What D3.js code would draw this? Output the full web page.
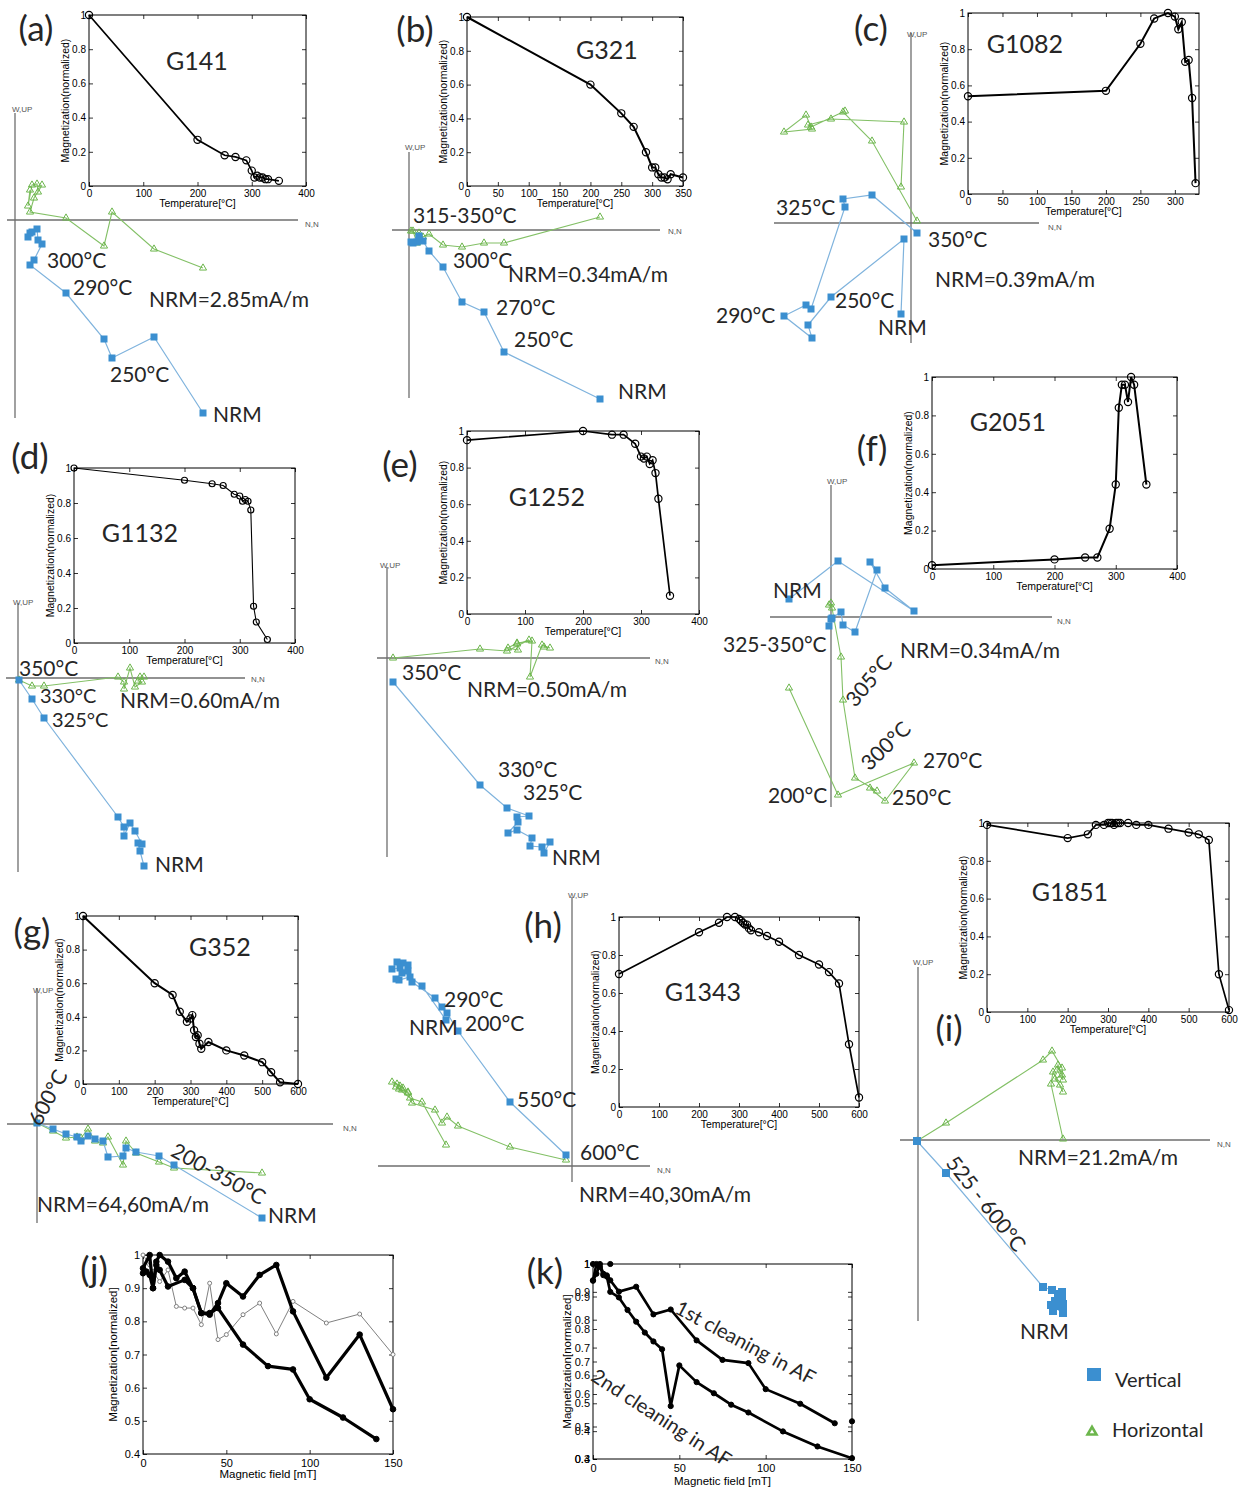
<!DOCTYPE html>
<html><head><meta charset="utf-8">
<script src="https://cdn.jsdelivr.net/npm/d3@7/dist/d3.min.js"></script>
<style>html,body{margin:0;padding:0;background:#fff;}</style>
</head><body>
<svg id="fig" width="1245" height="1492" xmlns="http://www.w3.org/2000/svg"></svg>
<script>
// ================= tick labels =================
const magTicks = [0, 0.2, 0.4, 0.6, 0.8, 1];
const tempTicks400 = [0, 100, 200, 300, 400];
const tempTicks350 = [0, 50, 100, 150, 200, 250, 300, 350];
const tempTicks300 = [0, 50, 100, 150, 200, 250, 300];
const tempTicks600 = [0, 100, 200, 300, 400, 500, 600];
const fieldTicks = [0, 50, 100, 150];
const afTicksJ = [0.4, 0.5, 0.6, 0.7, 0.8, 0.9, 1];
const afTicksKA = [0.4, 0.5, 0.6, 0.7, 0.8, 0.9, 1];
const afTicksKB = [0.3, 0.4, 0.5, 0.6, 0.7, 0.8, 0.9, 1];

// ================= thermal demagnetization curves =================
const tempG141 = [0,200,250,270,290,300,305,310,315,320,325,330,350];
const magG141  = [1,0.27,0.18,0.17,0.15,0.09,0.05,0.06,0.05,0.05,0.04,0.04,0.03];
const tempG321 = [0,200,250,270,290,300,305,310,315,320,325,330,350];
const magG321  = [1,0.6,0.43,0.35,0.2,0.11,0.11,0.07,0.05,0.05,0.04,0.07,0.05];
const tempG1082 = [0,200,250,270,290,300,305,310,315,320,325,330];
const magG1082  = [0.54,0.57,0.83,0.97,1.0,0.98,0.91,0.95,0.73,0.74,0.53,0.06];
const tempG1132 = [0,200,250,270,290,300,305,310,315,320,325,330,350];
const magG1132  = [1,0.93,0.91,0.9,0.85,0.84,0.81,0.82,0.81,0.76,0.21,0.12,0.02];
const tempG1252 = [0,200,250,270,290,300,305,310,315,320,325,330,350];
const magG1252  = [0.95,1.0,0.98,0.98,0.93,0.86,0.85,0.86,0.82,0.84,0.77,0.63,0.1];
const tempG2051 = [0,200,250,270,290,300,305,310,315,320,325,330,350];
const magG2051  = [0.02,0.05,0.06,0.06,0.21,0.44,0.84,0.96,0.96,0.87,1.0,0.96,0.44];
const tempG352 = [0,200,250,270,290,300,305,310,315,320,325,330,350,400,450,500,525,550,600];
const magG352  = [1,0.6,0.53,0.43,0.37,0.39,0.41,0.32,0.28,0.29,0.24,0.21,0.25,0.2,0.17,0.13,0.07,0.01,0.0];
const tempG1343 = [0,200,250,270,290,300,305,310,315,320,325,330,350,370,400,450,500,525,550,575,600];
const magG1343  = [0.7,0.92,0.97,1.0,1.0,0.99,0.98,0.97,0.96,0.96,0.94,0.93,0.92,0.9,0.87,0.8,0.75,0.71,0.65,0.33,0.05];
const tempG1851 = [0,200,250,270,290,300,305,310,315,320,325,330,350,370,400,450,500,525,550,575,600];
const magG1851  = [0.99,0.92,0.94,0.99,0.99,1.0,1.0,1.0,0.99,1.0,1.0,1.0,1.0,0.99,0.99,0.97,0.95,0.94,0.91,0.2,0.01];

// ================= Zijderveld components (N, vertical Up, horizontal W) =================
const zA_N = [18.8,13.9,9.7,8.9,5.1,1.5,1.9,2.7,2.3,2.2,1.7,1.3,1.5];
const zA_V = [-19.3,-11.7,-13.8,-11.9,-7.3,-4.5,-4.0,-2.4,-2.0,-0.9,-1.2,-1.7,-1.3];
const zA_H = [-4.8,-2.9,0.8,-2.6,0.2,0.8,2.2,3.5,2.8,3.6,3.5,1.4,3.0];

const zB_N = [19.1,9.5,7.5,5.3,3.4,2.0,1.4,1.0,0.8,0.4,0.2,1.0];
const zB_V = [-16.9,-12.2,-8.2,-7.2,-3.7,-2.1,-1.1,-0.8,-1.2,-1.3,-1.2,-0.6];
const zB_H = [1.3,-1.3,-1.3,-1.7,-1.5,-0.4,-0.7,-0.3,-1.3,-0.1,-0.1,-0.6];

const zC_N = [-1.0,-0.7,-8.0,-10.3,-9.9,-12.7,-10.5,-10.0,-6.6,-6.8,-3.9,0.6];
const zC_V = [-9.1,-1.6,-7.4,-10.2,-11.5,-9.3,-8.2,-8.6,1.6,2.4,2.8,-1.0];
const zC_H = [3.6,10.1,10.4,9.8,9.4,9.1,10.8,9.6,11.2,11.1,8.2,0.2];

const zD_N = [12.6,12.2,12.0,12.4,11.7,11.2,10.6,10.6,10.0,2.6,1.4,0.1];
const zD_V = [-18.8,-17.3,-16.5,-16.6,-15.3,-14.5,-15.8,-14.9,-13.9,-4.0,-2.1,-0.2];
const zD_H = [0.1,0.1,-0.3,-0.4,-0.9,1.0,-1.1,-0.4,0.1,-0.8,-0.8,-0.2];

const zE_N = [15.7,16.3,15.5,14.3,14.5,13.0,12.1,13.1,13.0,14.2,12.0,9.3,0.6];
const zE_V = [-19.5,-18.4,-18.9,-18.8,-18.0,-17.2,-17.5,-16.4,-15.9,-15.8,-15.0,-12.7,-2.4];
const zE_H = [1.1,1.0,1.3,-1.9,1.7,1.5,1.0,0.8,1.4,1.8,0.7,0.9,0.0];

const zF_N = [-4.2,0.7,8.3,5.4,3.9,4.6,2.4,1.2,1.0,0.1,-0.2,0.0];
const zF_V = [1.8,5.6,0.6,2.9,5.5,4.7,-1.5,-0.8,0.5,-0.1,-0.9,-0.2];
const zF_H = [-7.1,-17.8,-14.6,-18.4,-17.1,-17.4,-16.1,-8.3,-4.0,0.9,1.2,1.4];

const zG_N = [22.5,13.7,12.2,9.9,8.9,8.6,7.1,6.6,5.8,5.1,4.4,4.0,2.9,1.6,0.0];
const zG_V = [-9.4,-4.1,-3.2,-2.8,-2.4,-3.2,-3.3,-1.7,-1.5,-1.2,-1.7,-1.3,-1.0,-0.5,0.1];
const zG_H = [-4.9,-4.4,-3.8,-2.9,-1.7,-4.1,-1.3,-1.9,-1.7,-0.5,-1.4,-1.3,-1.4,-0.7,0.1];

const zH_N = [-12.6,-15.0,-16.2,-17.3,-17.6,-17.0,-16.4,-16.9,-17.5,-18.0,-17.2,-16.4,-16.0,-13.7,-13.0,-12.5,-11.4,-6.2,-0.6];
const zH_V = [14.6,18.0,18.9,18.6,18.7,19.3,20.1,20.3,20.4,19.7,19.8,19.5,18.4,16.8,15.9,15.3,13.5,6.4,1.1];
const zH_H = [2.1,6.4,6.8,7.7,7.9,7.6,7.3,7.8,8.2,8.4,8.0,7.4,6.3,5.6,4.3,4.9,4.0,1.9,0.6];

const zI_N = [14.5,13.3,13.5,14.5,14.2,13.7,14.4,14.0,13.9,14.5,14.4,13.4,12.5,2.8,-0.1];
const zI_V = [-17.3,-16.5,-17.1,-16.4,-15.6,-16.1,-15.9,-15.4,-16.6,-16.9,-15.2,-15.0,-14.7,-3.3,-0.1];
const zI_H = [0.1,5.6,6.8,4.8,5.5,6.1,6.5,7.5,7.0,6.0,7.2,8.9,8.0,1.7,-0.1];

// ================= AF demagnetization =================
const fieldJ1 = [0,4,6,8,10,15,20,25,30,35,40,45,50,60,70,80,90,110,130,150];
const magJ1   = [0.96,1.0,0.9,0.98,1.0,0.98,0.93,0.95,0.9,0.825,0.82,0.855,0.915,0.875,0.94,0.97,0.83,0.63,0.76,0.535];
const fieldJ2 = [0,2,4,6,8,10,15,25,30,35,40,45,60,75,90,100,120,140];
const magJ2   = [0.945,0.95,0.94,0.9,0.97,0.955,0.905,0.925,0.9,0.825,0.825,0.84,0.73,0.665,0.655,0.565,0.51,0.445];
const fieldJ3 = [0,4,6,10,15,20,25,30,35,40,45,50,60,70,80,90,110,130,150];
const magJ3   = [1.0,0.97,0.95,0.92,0.955,0.845,0.84,0.84,0.79,0.915,0.745,0.76,0.82,0.855,0.762,0.86,0.795,0.822,0.70];

const fieldK1 = [0,2,4,6,8,10,15,25,35,45,60,75,90,100,120,140];
const magK1   = [0.95,0.97,1.0,0.97,0.965,0.95,0.915,0.93,0.845,0.86,0.765,0.705,0.695,0.615,0.57,0.51];
const fieldK2 = [0,2,4,6,8,10,15,20,25,30,35,40,45,50,60,70,80,90,110,130,150];
const magK2   = [0.94,1.0,0.99,0.96,0.955,0.9,0.88,0.835,0.793,0.754,0.722,0.694,0.49,0.636,0.576,0.536,0.495,0.467,0.399,0.345,0.303];
const fieldK3 = [0,10,150];
const magK3   = [1.0,1.0,0.516];

// ================= drawing =================
const svg = d3.select('#fig');
const FT = "Lato, 'Open Sans', 'DejaVu Sans', sans-serif";
const FA = "'Liberation Sans', Arial, sans-serif";
const TXT = '#262626';
const AXC = '#6e6e6e';
const BLUE = '#3b8fd0', BLUE_L = '#7fb3dd', GREEN = '#6cb64c', GREEN_L = '#83c066';

function label(g, s, x, y, o = {}) {
  const t = g.append('text').text(s)
    .attr('font-family', o.ff || FT).attr('font-size', o.fs || 21)
    .attr('fill', o.fill || TXT);
  if (o.rot != null) {
    t.attr('x', x).attr('y', y).attr('text-anchor', 'middle')
      .attr('dominant-baseline', 'central')
      .attr('transform', `rotate(${o.rot},${x},${y})`);
  } else {
    t.attr('x', x).attr('y', y).attr('text-anchor', o.anchor || 'start');
    if (o.central) t.attr('dominant-baseline', 'central');
  }
  return t;
}

function axis(g, ax, tr, fs) {
  const a = g.append('g').attr('transform', tr).call(ax);
  a.select('.domain').remove();
  a.selectAll('line').attr('stroke', '#000').attr('stroke-width', 0.8);
  a.selectAll('text').attr('font-family', FA).attr('font-size', fs || 10).attr('fill', '#000');
  return a;
}

function thermo(c) {
  const g = svg.append('g');
  const x = d3.scaleLinear().domain([0, c.xmax]).range([c.x0, c.x1]);
  const y = d3.scaleLinear().domain([0, 1]).range([c.y1, c.y0]);
  g.append('rect').attr('x', c.x0).attr('y', c.y0)
    .attr('width', c.x1 - c.x0).attr('height', c.y1 - c.y0)
    .attr('fill', '#fff').attr('stroke', '#000').attr('stroke-width', 1);
  const fmtY = d => d === 0 ? '0' : d === 1 ? '1' : d3.format('.1f')(d);
  axis(g, d3.axisBottom(x).tickValues(c.xticks).tickSize(-4).tickPadding(4).tickFormat(d3.format('d')), `translate(0,${c.y1})`, 10);
  axis(g, d3.axisTop(x).tickValues(c.xticks).tickSize(-4).tickFormat(''), `translate(0,${c.y0})`);
  axis(g, d3.axisLeft(y).tickValues(magTicks).tickSize(-4).tickPadding(3).tickFormat(fmtY), `translate(${c.x0},0)`, 10);
  axis(g, d3.axisRight(y).tickValues(magTicks).tickSize(-4).tickFormat(''), `translate(${c.x1},0)`);
  label(g, 'Temperature[°C]', (c.x0 + c.x1) / 2, c.y1 + 21, { ff: FA, fs: 10.5, fill: '#000', anchor: 'middle' });
  label(g, 'Magnetization(normalized)', c.x0 - 24, (c.y0 + c.y1) / 2, { ff: FA, fs: 10.5, fill: '#000', rot: -90 });
  const pts = c.T.map((t, i) => [t, c.M[i]]);
  g.append('path').datum(pts)
    .attr('d', d3.line().x(d => x(d[0])).y(d => y(d[1])))
    .attr('fill', 'none').attr('stroke', '#000').attr('stroke-width', c.lw || 1.7);
  g.selectAll(null).data(pts).join('circle')
    .attr('cx', d => x(d[0])).attr('cy', d => y(d[1])).attr('r', c.r || 3.6)
    .attr('fill', 'none').attr('stroke', '#000').attr('stroke-width', 1.2);
  label(g, c.title, c.tx, c.ty, { fs: 25, anchor: 'middle' });
}

function zij(c) {
  const g = svg.append('g');
  const x = d3.scaleLinear().domain([0, 1]).range([c.ox, c.ox + 10]);
  const y = d3.scaleLinear().domain([0, 1]).range([c.oy, c.oy - 10]);
  g.append('line').attr('x1', c.hx[0]).attr('x2', c.hx[1]).attr('y1', c.oy).attr('y2', c.oy)
    .attr('stroke', AXC).attr('stroke-width', 1.3);
  g.append('line').attr('x1', c.ox).attr('x2', c.ox).attr('y1', c.vy[0]).attr('y2', c.vy[1])
    .attr('stroke', AXC).attr('stroke-width', 1.3);
  label(g, 'W,UP', c.wup[0], c.wup[1], { ff: FA, fs: 8, fill: '#555' });
  label(g, 'N,N', c.nn[0], c.nn[1], { ff: FA, fs: 8, fill: '#555' });
  const H = c.N.map((n, i) => [n, c.H[i]]);
  const V = c.N.map((n, i) => [n, c.V[i]]);
  const ln = d3.line().x(d => x(d[0])).y(d => y(d[1]));
  g.append('path').datum(H).attr('d', ln).attr('fill', 'none').attr('stroke', GREEN_L).attr('stroke-width', 1.1);
  g.selectAll(null).data(H).join('path')
    .attr('d', d3.symbol(d3.symbolTriangle, 22))
    .attr('transform', d => `translate(${x(d[0])},${y(d[1])})`)
    .attr('fill', 'none').attr('stroke', GREEN).attr('stroke-width', 1);
  g.append('path').datum(V).attr('d', ln).attr('fill', 'none').attr('stroke', BLUE_L).attr('stroke-width', 1.2);
  const s = c.sq || 7;
  g.selectAll(null).data(V).join('rect')
    .attr('x', d => x(d[0]) - s / 2).attr('y', d => y(d[1]) - s / 2)
    .attr('width', s).attr('height', s).attr('fill', BLUE);
  return g;
}

function texts(list) {
  const g = svg.append('g');
  list.forEach(d => label(g, d[0], d[1], d[2], d[3] != null ? { rot: d[3] } : (d[4] ? { fs: d[4] } : {})));
}

// ---------- Zijderveld panels ----------
zij({ ox: 15, oy: 220, hx: [7, 298], vy: [113, 418], wup: [12, 112], nn: [305, 227], N: zA_N, V: zA_V, H: zA_H });
zij({ ox: 409, oy: 230, hx: [392, 660], vy: [152, 398], wup: [405, 150], nn: [668, 234], N: zB_N, V: zB_V, H: zB_H });
zij({ ox: 911, oy: 223, hx: [774, 1039], vy: [33, 343], wup: [907, 37], nn: [1048, 230], N: zC_N, V: zC_V, H: zC_H });
zij({ ox: 18, oy: 678, hx: [6, 245], vy: [603, 872], wup: [13, 605], nn: [251, 682], N: zD_N, V: zD_V, H: zD_H });
zij({ ox: 387, oy: 658, hx: [377, 650], vy: [567, 857], wup: [380, 568], nn: [655, 664], N: zE_N, V: zE_V, H: zE_H });
zij({ ox: 831, oy: 617, hx: [770, 1052], vy: [485, 807], wup: [827, 484], nn: [1057, 624], N: zF_N, V: zF_V, H: zF_H });
zij({ ox: 37, oy: 1124, hx: [7, 333], vy: [988, 1223], wup: [33, 993], nn: [343, 1131], N: zG_N, V: zG_V, H: zG_H });
zij({ ox: 572, oy: 1166, hx: [378, 650], vy: [897, 1182], wup: [568, 898], nn: [657, 1173], N: zH_N, V: zH_V, H: zH_H });
zij({ ox: 918, oy: 1140, hx: [900, 1210], vy: [967, 1321], wup: [913, 965], nn: [1217, 1147], N: zI_N, V: zI_V, H: zI_H, sq: 8 });

// ---------- thermal insets ----------
thermo({ x0: 89, x1: 306, y0: 15, y1: 186, xmax: 400, xticks: tempTicks400, T: tempG141, M: magG141, title: 'G141', tx: 197, ty: 70 });
thermo({ x0: 467, x1: 683, y0: 17, y1: 186, xmax: 350, xticks: tempTicks350, T: tempG321, M: magG321, title: 'G321', tx: 607, ty: 59, lw: 2 });
thermo({ x0: 968, x1: 1199, y0: 13, y1: 194, xmax: 335, xticks: tempTicks300, T: tempG1082, M: magG1082, title: 'G1082', tx: 1025, ty: 53, lw: 2 });
thermo({ x0: 74, x1: 295, y0: 468, y1: 643, xmax: 400, xticks: tempTicks400, T: tempG1132, M: magG1132, title: 'G1132', tx: 140, ty: 542, lw: 1.1, r: 3 });
thermo({ x0: 467, x1: 699, y0: 431, y1: 614, xmax: 400, xticks: tempTicks400, T: tempG1252, M: magG1252, title: 'G1252', tx: 547, ty: 506 });
thermo({ x0: 932, x1: 1177, y0: 377, y1: 569, xmax: 400, xticks: tempTicks400, T: tempG2051, M: magG2051, title: 'G2051', tx: 1008, ty: 431, lw: 2 });
thermo({ x0: 83, x1: 298, y0: 916, y1: 1084, xmax: 600, xticks: tempTicks600, T: tempG352, M: magG352, title: 'G352', tx: 220, ty: 956, lw: 2 });
thermo({ x0: 619, x1: 859, y0: 917, y1: 1107, xmax: 600, xticks: tempTicks600, T: tempG1343, M: magG1343, title: 'G1343', tx: 703, ty: 1001 });
thermo({ x0: 987, x1: 1229, y0: 823, y1: 1012, xmax: 600, xticks: tempTicks600, T: tempG1851, M: magG1851, title: 'G1851', tx: 1070, ty: 901 });

// ---------- annotations ----------
texts([
  ['300°C', 47, 268], ['290°C', 73, 295], ['NRM=2.85mA/m', 149, 307], ['250°C', 110, 382], ['NRM', 213, 422],
  ['315-350°C', 413, 223], ['300°C', 453, 268], ['NRM=0.34mA/m', 508, 282], ['270°C', 496, 315], ['250°C', 514, 347], ['NRM', 618, 399],
  ['325°C', 776, 215], ['350°C', 928, 247], ['NRM=0.39mA/m', 935, 287], ['250°C', 835, 308], ['290°C', 716, 323], ['NRM', 878, 335],
  ['350°C', 19, 676], ['330°C', 40, 703, null, 20], ['325°C', 52, 727, null, 20], ['NRM=0.60mA/m', 120, 708], ['NRM', 155, 872],
  ['350°C', 402, 680], ['NRM=0.50mA/m', 467, 697], ['330°C', 498, 777], ['325°C', 523, 800], ['NRM', 552, 865],
  ['NRM', 773, 598], ['325-350°C', 723, 652], ['NRM=0.34mA/m', 900, 658], ['305°C', 868, 680, -50], ['300°C', 885, 745, -44],
  ['270°C', 923, 768], ['200°C', 768, 803], ['250°C', 892, 805],
  ['600°C', 47, 1097, -62], ['200-350°C', 219, 1173, 29], ['NRM=64,60mA/m', 37, 1212], ['NRM', 268, 1223],
  ['290°C', 444, 1007], ['NRM', 409, 1035], ['200°C', 465, 1031], ['550°C', 517, 1107], ['600°C', 580, 1160], ['NRM=40,30mA/m', 579, 1202],
  ['NRM=21.2mA/m', 1018, 1165], ['525 - 600°C', 987, 1203, 52], ['NRM', 1020, 1339]
]);

// ---------- panel letters ----------
const letters = svg.append('g');
[['(a)', 36, 27], ['(b)', 415, 28], ['(c)', 871, 27], ['(d)', 30, 455], ['(e)', 400, 463], ['(f)', 872, 447],
 ['(g)', 32, 930], ['(h)', 543, 924], ['(i)', 949, 1027], ['(j)', 94, 1268], ['(k)', 545, 1270]]
  .forEach(d => label(letters, d[0], d[1], d[2], { fs: 35, anchor: 'middle', central: true }));

// ---------- AF plots ----------
function afPlot(c) {
  const g = svg.append('g');
  const x = d3.scaleLinear().domain([0, 150]).range([c.x0, c.x1]);
  const ys = c.axes.map(a => d3.scaleLinear().domain([a[0], 1]).range([c.y1, c.y0]));
  g.append('rect').attr('x', c.x0).attr('y', c.y0).attr('width', c.x1 - c.x0).attr('height', c.y1 - c.y0)
    .attr('fill', '#fff').attr('stroke', '#000').attr('stroke-width', 1);
  const fmtY = d => d === 1 ? '1' : d3.format('.1f')(d);
  axis(g, d3.axisBottom(x).tickValues(fieldTicks).tickSize(-4).tickPadding(5).tickFormat(d3.format('d')), `translate(0,${c.y1})`, 11);
  axis(g, d3.axisTop(x).tickValues(fieldTicks).tickSize(-4).tickFormat(''), `translate(0,${c.y0})`);
  ys.forEach((yy, i) => {
    axis(g, d3.axisLeft(yy).tickValues(c.axes[i][1]).tickSize(-4).tickPadding(3).tickFormat(fmtY), `translate(${c.x0},0)`, 11);
    axis(g, d3.axisRight(yy).tickValues(c.axes[i][1]).tickSize(-4).tickFormat(''), `translate(${c.x1},0)`);
  });
  label(g, 'Magnetic field [mT]', (c.x0 + c.x1) / 2, c.y1 + c.xlab, { ff: FA, fs: 11.5, fill: '#000', anchor: 'middle' });
  label(g, 'Magnetization[normalized]', c.x0 - c.ylab, (c.y0 + c.y1) / 2, { ff: FA, fs: 11.5, fill: '#000', rot: -90 });
  c.series.forEach(s => {
    const yy = ys[s.ax];
    const pts = s.f.map((f, i) => [f, s.m[i]]);
    if (s.lw) g.append('path').datum(pts).attr('d', d3.line().x(d => x(d[0])).y(d => yy(d[1])))
      .attr('fill', 'none').attr('stroke', s.color).attr('stroke-width', s.lw).attr('stroke-linejoin', 'round');
    g.selectAll(null).data(pts).join('circle')
      .attr('cx', d => x(d[0])).attr('cy', d => yy(d[1])).attr('r', s.r)
      .attr('fill', s.open ? '#fff' : s.color).attr('stroke', s.color).attr('stroke-width', 1);
  });
  return g;
}

afPlot({ x0: 143, x1: 393, y0: 1255, y1: 1454, xlab: 24, ylab: 30,
  axes: [[0.4, afTicksJ]],
  series: [
    { f: fieldJ3, m: magJ3, ax: 0, lw: 1, color: '#808080', r: 2, open: true },
    { f: fieldJ1, m: magJ1, ax: 0, lw: 3.2, color: '#000', r: 2.8 },
    { f: fieldJ2, m: magJ2, ax: 0, lw: 3.2, color: '#000', r: 2.8 }
  ] });

const gk = afPlot({ x0: 593, x1: 852, y0: 1264, y1: 1459, xlab: 26, ylab: 26,
  axes: [[0.4, afTicksKA], [0.3, afTicksKB]],
  series: [
    { f: fieldK1, m: magK1, ax: 0, lw: 2.7, color: '#000', r: 2.6 },
    { f: fieldK2, m: magK2, ax: 1, lw: 2.7, color: '#000', r: 2.6 },
    { f: fieldK3, m: magK3, ax: 0, lw: 0, color: '#000', r: 2.6 }
  ] });
label(gk, '1st cleaning in AF', 746, 1342, { fs: 20, rot: 28 });
label(gk, '2nd cleaning in AF', 662, 1417, { fs: 20, rot: 33 });

// ---------- legend ----------
const lg = svg.append('g');
lg.append('rect').attr('x', 1087).attr('y', 1368).attr('width', 14).attr('height', 13).attr('fill', BLUE);
label(lg, 'Vertical', 1115, 1387, { fs: 20 });
lg.append('path').attr('d', d3.symbol(d3.symbolTriangle, 34)())
  .attr('transform', 'translate(1092,1432)').attr('fill', 'none').attr('stroke', GREEN).attr('stroke-width', 2.6);
label(lg, 'Horizontal', 1112, 1437, { fs: 20 });
</script>
</body></html>
